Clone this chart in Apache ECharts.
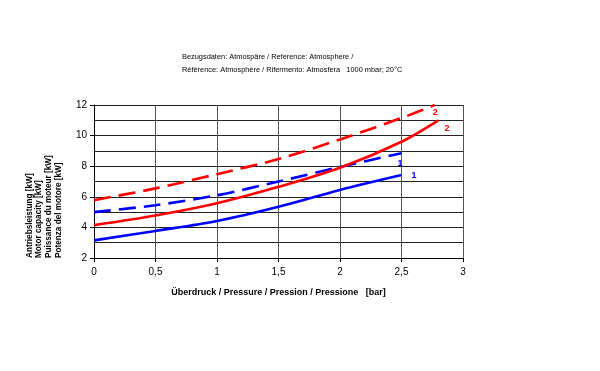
<!DOCTYPE html>
<html><head><meta charset="utf-8">
<script src="https://cdn.jsdelivr.net/npm/echarts@6/dist/echarts.min.js"></script>
<style>html,body{margin:0;padding:0;background:#fff}#c{width:600px;height:371px}</style>
</head><body><div id="c"></div>
<script>
const blueX = [0, 0.5, 1, 1.5, 2, 2.5];
const blueSolid = [3.15, 3.77, 4.42, 5.35, 6.45, 7.42];
const blueDashed = [5.0, 5.45, 6.1, 7.0, 7.95, 8.85];
const redSolidX = [0, 0.5, 1, 1.5, 2, 2.5, 2.8];
const redSolid = [4.15, 4.78, 5.58, 6.65, 7.9, 9.6, 11.0];
const redDashedX = [0, 0.5, 1, 1.5, 2, 2.5, 2.77];
const redDashed = [5.78, 6.55, 7.48, 8.47, 9.75, 11.15, 12.0];
const curveLabels = ['1', '1', '2', '2'];
const yAxisNames = ['Antriebsleistung [kW]', 'Motor capacity [kW]', 'Puissance du moteur [kW]', 'Potenza del motore [kW]'];
const xAxisName = 'Überdruck / Pressure / Pression / Pressione   [bar]';
const headerLines = ['Bezugsdaten: Atmospäre / Reference: Atmosphere /', 'Référence: Atmosphère / Rifermento: Atmosfera   1000 mbar; 20°C'];

const pairs = (xs, ys) => xs.map((x, i) => [x, ys[i]]);
const FONT = 'Liberation Sans';
const chart = echarts.init(document.getElementById('c'));

function mk(name, xs, ys, color, dashed, label, off) {
  return {
    name, type: 'line', data: pairs(xs, ys), smooth: 0.3, showSymbol: false, clip: false,
    lineStyle: { color, width: 2.6, type: dashed ? [17, 8] : 'solid', cap: 'butt' },
    endLabel: { show: true, formatter: label, color, fontSize: 9, fontWeight: 'bold', fontFamily: FONT, offset: off }
  };
}

chart.setOption({
  animation: false,
  grid: { left: 94, right: 137, top: 105, bottom: 113 },
  xAxis: {
    type: 'value', min: 0, max: 3, interval: 0.5,
    axisLine: { lineStyle: { color: '#000', width: 1 } },
    axisTick: { show: true, length: 4, lineStyle: { color: '#000' } },
    axisLabel: { color: '#000', fontSize: 10, fontFamily: FONT, margin: 9,
      formatter: v => String(v).replace('.', ',') },
    splitLine: { show: true, lineStyle: { color: '#555', width: 1 } },
    name: xAxisName, nameLocation: 'middle', nameGap: 30,
    nameTextStyle: { color: '#000', fontSize: 9, fontWeight: 'bold', fontFamily: FONT }
  },
  yAxis: {
    type: 'value', min: 2, max: 12, interval: 2,
    axisLine: { show: true, lineStyle: { color: '#000', width: 1 } },
    axisTick: { show: true, length: 4, lineStyle: { color: '#000' } },
    minorTick: { show: false, splitNumber: 2 },
    axisLabel: { color: '#000', fontSize: 10, fontFamily: FONT, margin: 7 },
    splitLine: { show: true, lineStyle: { color: '#222', width: 1 } },
    minorSplitLine: { show: true, lineStyle: { color: '#222', width: 1 } }
  },
  graphic: [
    ...headerLines.map((t, i) => ({
      type: 'text', left: 182, top: 53 + i * 13,
      style: { text: t, fill: '#000', fontSize: 7.4, fontFamily: FONT }
    })),
    ...yAxisNames.map((t, i) => ({
      type: 'text', x: 29.5 + i * 9.6, y: 258, rotation: Math.PI / 2,
      style: { text: t, fill: '#000', fontSize: 8.2, fontWeight: 'bold', fontFamily: FONT,
        textAlign: 'left', textVerticalAlign: 'middle' }
    }))
  ],
  series: [
    mk('b1', blueX, blueSolid, '#0000ff', false, curveLabels[0], [2, 0]),
    mk('b2', blueX, blueDashed, '#0000ff', true, curveLabels[1], [-12, 10]),
    mk('r1', redSolidX, redSolid, '#ff0000', false, curveLabels[2], [-2, 8]),
    mk('r2', redDashedX, redDashed, '#ff0000', true, curveLabels[3], [-10, 8])
  ]
});
</script></body></html>
